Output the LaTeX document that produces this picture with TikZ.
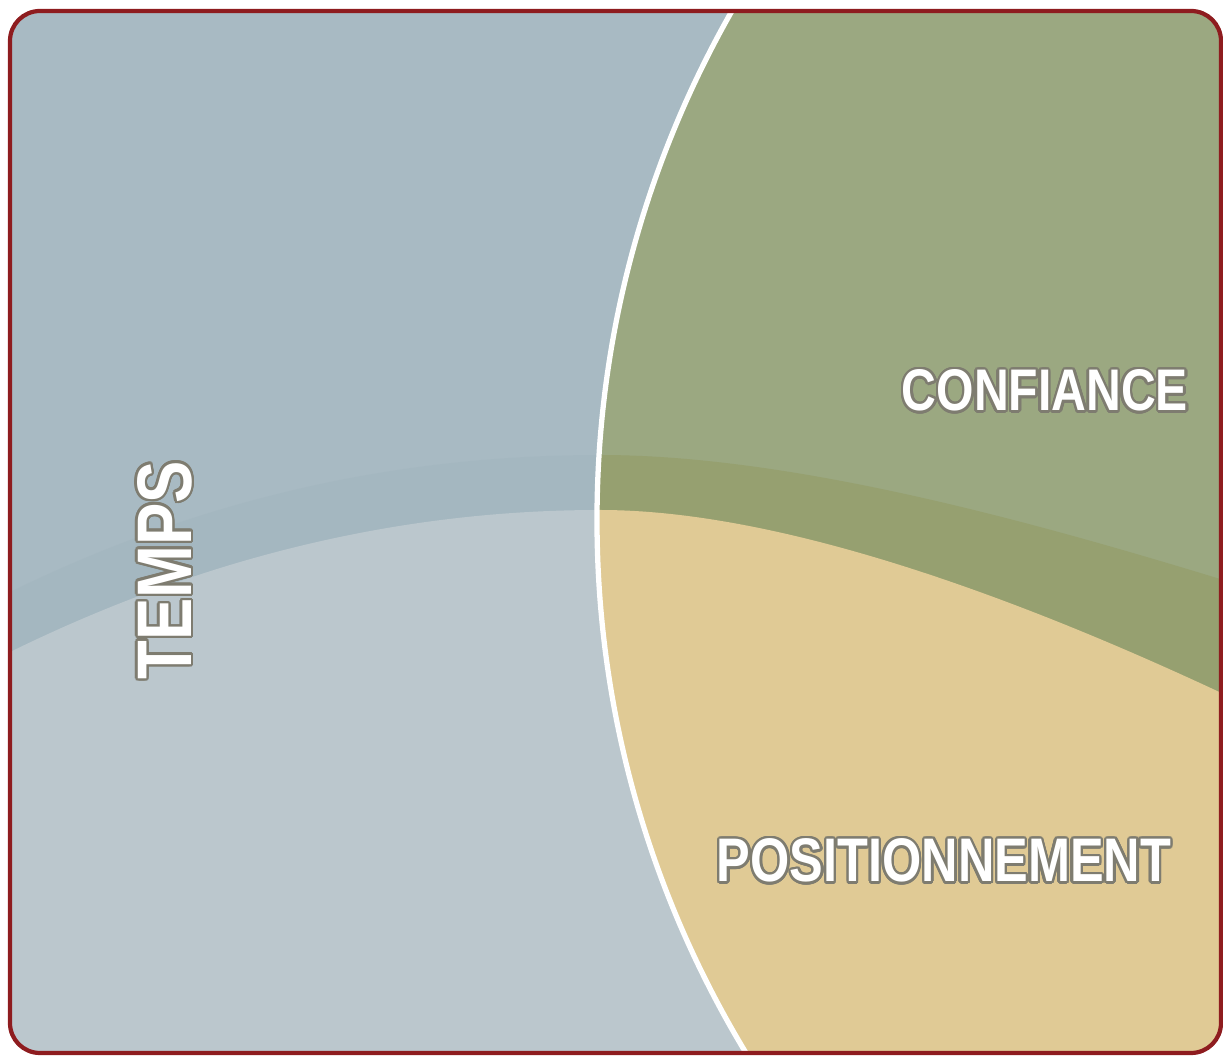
\documentclass[tikz,border=0pt]{standalone}
\usepackage{fontspec}
\usepackage{contour}
\newfontfamily\labelfont[FakeStretch=0.82]{Liberation Sans}
\contourlength{0.7pt}
\contournumber{20}
\definecolor{tempsblue}{HTML}{A8BAC3}
\definecolor{tempslight}{HTML}{BBC7CD}
\definecolor{tempsshade}{HTML}{A2B5BE}
\definecolor{confgreen}{HTML}{9BA881}
\definecolor{confshade}{HTML}{96A070}
\definecolor{postan}{HTML}{E0CA95}
\definecolor{framered}{HTML}{8E1C1F}
\definecolor{outlinegray}{HTML}{7E7C70}
\begin{document}
\begin{tikzpicture}
    [
      x=0.01cm, y=0.01cm,
      frame/.style={rounded corners=8.5pt, line width=1.2pt, draw=framered},
      split/.style={line width=1.5pt, draw=white},
      word/.style={inner sep=0pt, text=white, font=\labelfont\bfseries},
    ]

    \useasboundingbox (0,0) rectangle (1223,1057);

    \begin{scope}
    \clip [rounded corners=8.5pt] (10,4) rectangle (1221,1046);
    % left part
    \fill [tempsblue] (0,0) rectangle (1230,1060);
    \fill [tempsshade, opacity=0.5] (0,460) .. controls (200,560) and (400,602) .. (600,602)
      .. controls (800,602) and (1050,530) .. (1230,475) -- (1230,0) -- (0,0) -- cycle;
    \fill [tempslight] (0,400) .. controls (200,500) and (400,547) .. (600,547)
      .. controls (800,547) and (1060,440) .. (1230,360) -- (1230,0) -- (0,0) -- cycle;
    % right part
    \begin{scope}
    \clip (1675,537) ellipse [x radius=1078, y radius=1050];
    \fill [confgreen] (0,0) rectangle (1230,1060);
    \fill [confshade] (0,460) .. controls (200,560) and (400,602) .. (600,602)
      .. controls (800,602) and (1050,530) .. (1230,475) -- (1230,0) -- (0,0) -- cycle;
    \fill [postan] (0,400) .. controls (200,500) and (400,547) .. (600,547)
      .. controls (800,547) and (1060,440) .. (1230,360) -- (1230,0) -- (0,0) -- cycle;
    \end{scope}
    \draw [split] (1675,537) ellipse [x radius=1078, y radius=1050];
    \end{scope}

    \draw [frame] (10,4) rectangle (1221,1046);

    \node (temps) [word, font=\labelfont\bfseries\fontsize{22}{22}\selectfont, rotate=90]
      at (166,487) {\contour{outlinegray}{TEMPS}};
    \node (confiance) [word, font=\labelfont\bfseries\fontsize{16.7}{17}\selectfont]
      at (1045,665) {\contour{outlinegray}{CONFIANCE}};
    \node (positionnement) [word, font=\labelfont\bfseries\fontsize{17.5}{18}\selectfont]
      at (944,195) {\contour{outlinegray}{POSITIONNEMENT}};

  \end{tikzpicture}
\end{document}
